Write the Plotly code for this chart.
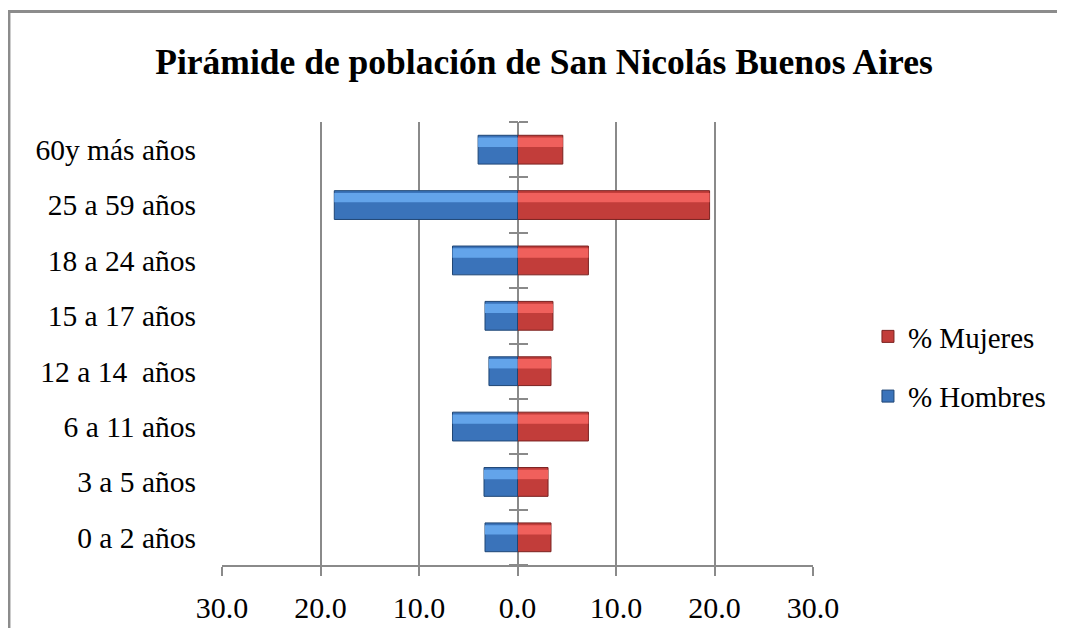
import plotly.graph_objects as go

categories = ["0 a 2 años", "3 a 5 años", "6 a 11 años", "12 a 14  años",
              "15 a 17 años", "18 a 24 años", "25 a 59 años", "60y más años"]
hombres = [3.3, 3.4, 6.6, 2.9, 3.3, 6.6, 18.6, 4.0]
mujeres = [3.4, 3.1, 7.2, 3.4, 3.6, 7.2, 19.5, 4.6]
tick_vals = [-30, -20, -10, 0, 10, 20, 30]
tick_text = ["30.0", "20.0", "10.0", "0.0", "10.0", "20.0", "30.0"]

FONT = "Liberation Serif, Times New Roman, serif"
GRID = "#8a8a8a"

fig = go.Figure()
fig.add_trace(go.Bar(
    y=categories, x=mujeres, orientation="h", name="% Mujeres",
    marker=dict(color="#c23d3a", line=dict(color="#7a2220", width=1)),
    legendgroup="m", width=0.52,
))
fig.add_trace(go.Bar(
    y=categories, x=[-v for v in hombres], orientation="h", name="% Hombres",
    marker=dict(color="#3a73ba", line=dict(color="#1f4675", width=1)),
    legendgroup="h", width=0.52,
))
# highlight strips (bevel look)
fig.add_trace(go.Bar(
    y=categories, x=mujeres, orientation="h", showlegend=False, hoverinfo="skip",
    marker=dict(color="#f0605c", line=dict(width=0)), width=0.17, offset=0.05,
))
fig.add_trace(go.Bar(
    y=categories, x=[-v for v in hombres], orientation="h", showlegend=False, hoverinfo="skip",
    marker=dict(color="#63a4ea", line=dict(width=0)), width=0.17, offset=0.05,
))

fig.update_layout(
    barmode="overlay",
    width=1049, height=620,
    margin=dict(l=214, r=244, t=114, b=63, autoexpand=False),
    paper_bgcolor="white", plot_bgcolor="white",
    font=dict(family=FONT, color="black", size=29),
    title=dict(text="<b>Pirámide de población de San Nicolás Buenos Aires</b>",
               x=0.511, xanchor="center", y=0.913, yanchor="middle",
               font=dict(family=FONT, size=35.5, color="black")),
    legend=dict(x=1.093, xanchor="left", y=0.448, yanchor="middle",
                font=dict(family=FONT, size=29), tracegroupgap=19,
                bgcolor="rgba(0,0,0,0)", itemwidth=30),
    showlegend=True,
    xaxis=dict(range=[-30, 30], tickvals=tick_vals, ticktext=tick_text,
               automargin=False,
               showgrid=True, gridcolor=GRID, gridwidth=1.5,
               zeroline=True, zerolinecolor=GRID, zerolinewidth=2,
               showline=True, linecolor=GRID, linewidth=2,
               ticks="outside", ticklen=9, tickcolor=GRID, tickwidth=1.5,
               ticklabelstandoff=6, tickfont=dict(family=FONT, size=30)),
    yaxis=dict(categoryorder="array", categoryarray=categories,
               automargin=False,
               showgrid=False, showline=False, ticks="",
               ticklabelstandoff=25, tickfont=dict(family=FONT, size=29.5)),
    yaxis2=dict(overlaying="y", anchor="free", position=0.5, side="left",
                categoryorder="array", categoryarray=categories,
                matches="y", showticklabels=False, showgrid=False,
                showline=False, ticks="outside", ticklen=9, tickwidth=1.5,
                tickcolor=GRID, tickson="boundaries"),
    yaxis3=dict(overlaying="y", anchor="free", position=0.5, side="right",
                categoryorder="array", categoryarray=categories,
                matches="y", showticklabels=False, showgrid=False,
                showline=False, ticks="outside", ticklen=9, tickwidth=1.5,
                tickcolor=GRID, tickson="boundaries"),
    shapes=[
        dict(type="line", xref="paper", yref="paper", x0=-0.3605, x1=-0.3605,
             y0=1.2494, y1=-0.2, line=dict(color="#8c8c8c", width=3)),
        dict(type="line", xref="paper", yref="paper", x0=-0.363, x1=1.43,
             y0=1.2494, y1=1.2494, line=dict(color="#8c8c8c", width=3)),
    ],
)
# invisible traces to activate the tick axes at x = 0
fig.add_trace(go.Scatter(y=categories, x=[0]*len(categories), yaxis="y2",
                         mode="markers", marker=dict(opacity=0), showlegend=False, hoverinfo="skip"))
fig.add_trace(go.Scatter(y=categories, x=[0]*len(categories), yaxis="y3",
                         mode="markers", marker=dict(opacity=0), showlegend=False, hoverinfo="skip"))

fig.write_html("out.html")
